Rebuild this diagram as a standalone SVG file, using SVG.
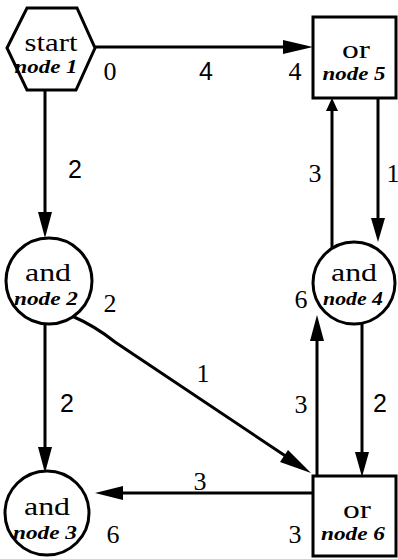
<svg xmlns="http://www.w3.org/2000/svg" width="398" height="559" viewBox="0 0 398 559">
<style>
.shape{fill:#fff;stroke:#000;stroke-width:3}
.edge{fill:none;stroke:#000;stroke-width:3}
.head{fill:#000;stroke:none}
.main{font-family:"Liberation Serif",serif;font-size:26px;text-anchor:middle;fill:#000}
.sub{font-family:"Liberation Serif",serif;font-style:italic;font-weight:bold;font-size:18px;text-anchor:middle;fill:#000}
.num{font-family:"Liberation Serif",serif;font-size:26px;text-anchor:middle;fill:#000}
.lab{font-family:"Liberation Sans",sans-serif;font-size:25px;text-anchor:middle;fill:#000}
</style>
<rect width="398" height="559" fill="#fff"/>
<g id="connectors">
  <line class="edge" x1="95" y1="47" x2="288" y2="47"/>
  <polygon class="head" points="313,47 283,40 283,54"/>
  <line class="edge" x1="45" y1="91" x2="45" y2="216"/>
  <polygon class="head" points="45,238 38,212 52,212"/>
  <line class="edge" x1="378" y1="98" x2="378" y2="222"/>
  <polygon class="head" points="378,242 371,218 385,218"/>
  <line class="edge" x1="332" y1="248" x2="332" y2="108"/>
  <polygon class="head" points="332,98 326,111 338,111"/>
  <line class="edge" x1="362" y1="323" x2="362" y2="456"/>
  <polygon class="head" points="362,477 355,452 369,452"/>
  <line class="edge" x1="317" y1="476" x2="317" y2="336"/>
  <polygon class="head" points="317,315 310,341 324,341"/>
  <path class="edge" d="M72,316 Q95,326 115,342 L290,459"/>
  <polygon class="head" points="311,473 280,462 288,450"/>
  <line class="edge" x1="313" y1="493" x2="118" y2="493"/>
  <polygon class="head" points="95,493 123,486 123,500"/>
  <line class="edge" x1="45" y1="324" x2="45" y2="450"/>
  <polygon class="head" points="45,473 38,447 52,447"/>
</g>
<g id="node1">
  <polygon class="shape" points="7,48 27,8 77,8 95,48 76,90 27,90"/>
  <text class="main" x="51" y="51" textLength="53" lengthAdjust="spacingAndGlyphs">start</text>
  <text class="sub" x="46" y="73" textLength="63" lengthAdjust="spacingAndGlyphs">node 1</text>
</g>
<g id="node5">
  <rect class="shape" x="313" y="17" width="83" height="81"/>
  <text class="main" x="356" y="58" textLength="28" lengthAdjust="spacingAndGlyphs">or</text>
  <text class="sub" x="354" y="80" textLength="63" lengthAdjust="spacingAndGlyphs">node 5</text>
</g>
<g id="node2">
  <circle class="shape" cx="49" cy="281" r="43"/>
  <text class="main" x="48" y="281" textLength="46" lengthAdjust="spacingAndGlyphs">and</text>
  <text class="sub" x="46" y="305" textLength="64" lengthAdjust="spacingAndGlyphs">node 2</text>
</g>
<g id="node4">
  <circle class="shape" cx="354" cy="283" r="41"/>
  <text class="main" x="354" y="281" textLength="46" lengthAdjust="spacingAndGlyphs">and</text>
  <text class="sub" x="353" y="305" textLength="60" lengthAdjust="spacingAndGlyphs">node 4</text>
</g>
<g id="node3">
  <circle class="shape" cx="47" cy="513" r="42"/>
  <text class="main" x="47" y="515" textLength="46" lengthAdjust="spacingAndGlyphs">and</text>
  <text class="sub" x="45" y="539" textLength="64" lengthAdjust="spacingAndGlyphs">node 3</text>
</g>
<g id="node6">
  <rect class="shape" x="313" y="476" width="83" height="80"/>
  <text class="main" x="357" y="518" textLength="28" lengthAdjust="spacingAndGlyphs">or</text>
  <text class="sub" x="353" y="540" textLength="64" lengthAdjust="spacingAndGlyphs">node 6</text>
</g>
<g id="labels">
  <text class="num" x="110" y="80">0</text>
  <text class="lab" x="206" y="80">4</text>
  <text class="num" x="295" y="80">4</text>
  <text class="lab" x="75" y="178">2</text>
  <text class="num" x="315" y="182">3</text>
  <text class="num" x="393" y="182">1</text>
  <text class="num" x="110" y="312">2</text>
  <text class="num" x="301" y="308">6</text>
  <text class="num" x="203" y="382">1</text>
  <text class="num" x="301" y="413">3</text>
  <text class="lab" x="67" y="412">2</text>
  <text class="lab" x="380" y="412">2</text>
  <text class="num" x="200" y="490">3</text>
  <text class="num" x="113" y="543">6</text>
  <text class="num" x="295" y="543">3</text>
</g>
</svg>
